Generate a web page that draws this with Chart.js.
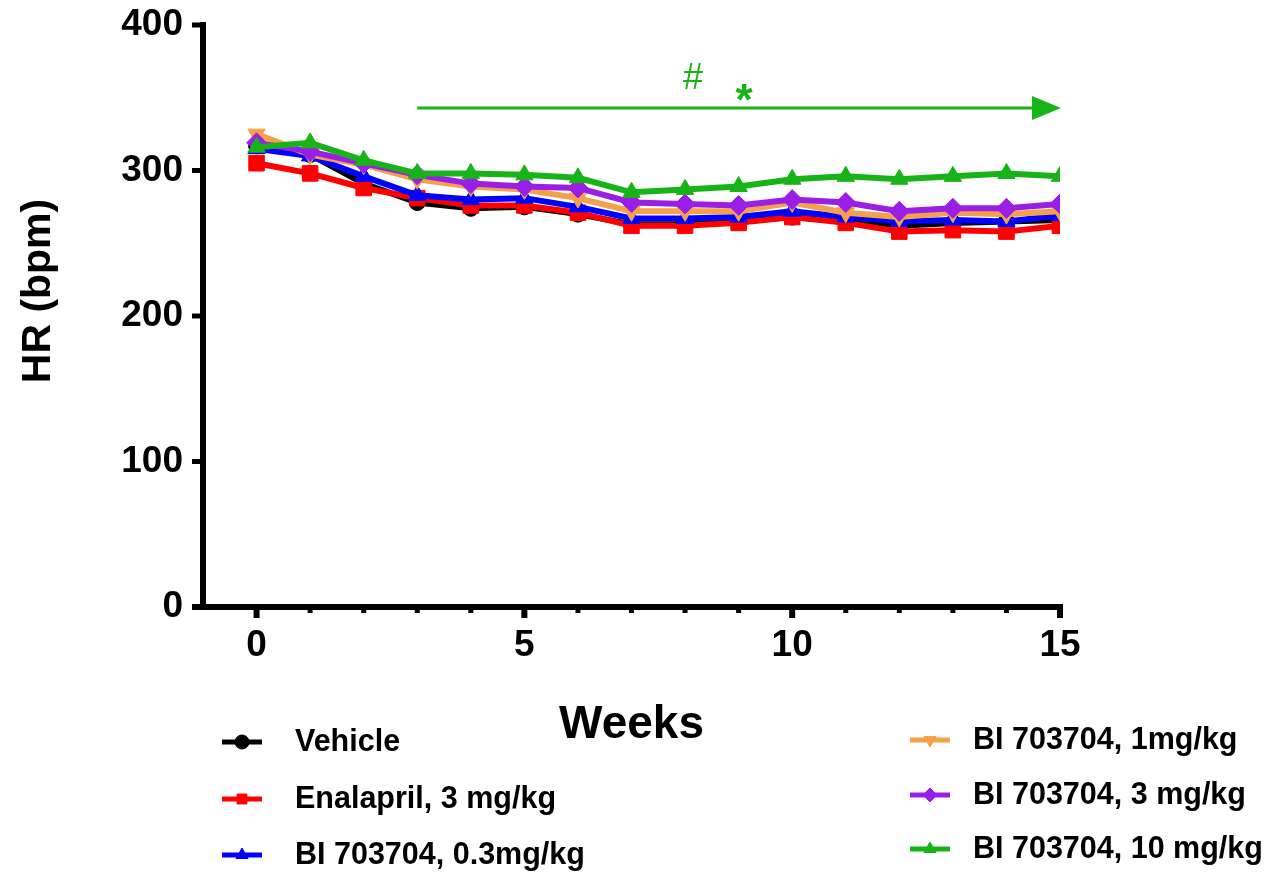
<!DOCTYPE html>
<html><head><meta charset="utf-8">
<script src="https://cdn.jsdelivr.net/npm/chart.js@4.4.1/dist/chart.umd.min.js"></script>
<style>html,body{margin:0;padding:0;background:#fff}canvas{display:block}</style>
</head><body>
<canvas id="c" width="1279" height="878"></canvas>
<script>
// ---- data ----
const weeks = [0,1,2,3,4,5,6,7,8,9,10,11,12,13,14,15];
const seriesNames = ['Vehicle','Enalapril, 3 mg/kg','BI 703704, 0.3mg/kg','BI 703704, 1mg/kg','BI 703704, 3 mg/kg','BI 703704, 10 mg/kg'];
const vehicle   = [317,311,291,278,274,275,270,263,263,265,268,265,262,264,265,266];
const enalapril = [305,298,288,281,276,276,271,262,262,264,268,264,258,259,258,262];
const bi03      = [315,310,296,283,280,281,275,267,267,268,272,268,265,266,265,269];
const bi1       = [325,311,304,294,289,287,281,272,272,272,278,271,268,271,270,272];
const bi3       = [319,313,305,297,291,289,288,278,277,276,280,278,272,274,274,277];
const bi10      = [316,319,307,298,298,297,295,285,287,289,294,296,294,296,298,296];
const yTickValues = [0,100,200,300,400];
const xMajorTicks = [0,5,10,15];
const xMinorTicks = [1,2,3,4,6,7,8,9,11,12,13,14];
const xTitle = 'Weeks';
const yTitle = 'HR (bpm)';
const arrowFrom = 3, arrowTo = 15, arrowLevel = 343;
const hashLabel = '#', hashWeek = 8.15, hashLevel = 363;
const starLabel = '*', starWeek = 9.1, starLevel = 352;

// ---- styles ----
const colors = ['#000000','#ff0000','#0000ff','#f5a04a','#9b1ee6','#17b417'];
const pointStyles = ['circle','rect','triangle','triangle','rectRot','triangle'];
const pointRotations = [0,0,0,180,0,0];
const pointRadii = [8,11,10,10,10,10];
const allSeries = [vehicle, enalapril, bi03, bi1, bi3, bi10];
const FONT = '"Liberation Sans", Arial, Helvetica, sans-serif';

const datasets = allSeries.map((vals, i) => ({
  label: seriesNames[i],
  data: weeks.map((w, j) => ({x: w, y: vals[j]})),
  borderColor: colors[i],
  backgroundColor: colors[i],
  pointBackgroundColor: colors[i],
  pointBorderColor: colors[i],
  pointStyle: pointStyles[i],
  pointRotation: pointRotations[i],
  pointRadius: pointRadii[i],
  pointBorderWidth: 1,
  borderWidth: 6,
  tension: 0,
  order: 6 - i
}));

const decor = {
  id: 'decor',
  afterDraw(chart) {
    const {ctx, scales: {x, y}} = chart;
    ctx.save();
    const ax = x.getPixelForValue(x.min);
    const ay = y.getPixelForValue(0);
    const yTop = y.getPixelForValue(400);
    const xEnd = x.getPixelForValue(15);
    ctx.strokeStyle = '#000';
    ctx.lineCap = 'butt';
    ctx.lineWidth = 6;
    ctx.beginPath(); ctx.moveTo(ax, yTop - 3); ctx.lineTo(ax, ay + 3); ctx.stroke();
    ctx.beginPath(); ctx.moveTo(ax - 11, ay); ctx.lineTo(xEnd + 3, ay); ctx.stroke();
    ctx.lineWidth = 5;
    yTickValues.forEach(v => {
      const py = y.getPixelForValue(v);
      ctx.beginPath(); ctx.moveTo(ax - 11, py); ctx.lineTo(ax, py); ctx.stroke();
    });
    ctx.lineWidth = 6;
    xMajorTicks.forEach(v => {
      const px = x.getPixelForValue(v);
      ctx.beginPath(); ctx.moveTo(px, ay); ctx.lineTo(px, ay + 11); ctx.stroke();
    });
    ctx.lineWidth = 5;
    xMinorTicks.forEach(v => {
      const px = x.getPixelForValue(v);
      ctx.beginPath(); ctx.moveTo(px, ay); ctx.lineTo(px, ay + 6); ctx.stroke();
    });
    ctx.fillStyle = '#000';
    ctx.font = 'bold 46px ' + FONT;
    ctx.textAlign = 'center';
    ctx.textBaseline = 'alphabetic';
    ctx.fillText(xTitle, (x.left + x.right) / 2, 738);
    ctx.save();
    ctx.translate(50, 291);
    ctx.rotate(-Math.PI / 2);
    ctx.font = 'bold 41px ' + FONT;
    ctx.fillText(yTitle, 0, 0);
    ctx.restore();
    const green = colors[5];
    ctx.strokeStyle = green; ctx.fillStyle = green;
    const ayA = y.getPixelForValue(arrowLevel);
    const x1 = x.getPixelForValue(arrowFrom), x2 = x.getPixelForValue(arrowTo);
    ctx.lineWidth = 3;
    ctx.beginPath(); ctx.moveTo(x1, ayA); ctx.lineTo(x2 - 26, ayA); ctx.stroke();
    ctx.beginPath(); ctx.moveTo(x2 + 1, ayA); ctx.lineTo(x2 - 28, ayA - 12); ctx.lineTo(x2 - 28, ayA + 12); ctx.closePath(); ctx.fill();
    ctx.textBaseline = 'middle';
    ctx.font = '36px ' + FONT;
    ctx.fillText(hashLabel, x.getPixelForValue(hashWeek), y.getPixelForValue(hashLevel));
    ctx.font = 'bold 44px ' + FONT;
    ctx.fillText(starLabel, x.getPixelForValue(starWeek), y.getPixelForValue(starLevel) + 8);
    const colX = [222, 910], textX = [295, 973];
    const rowY = [[742, 799, 855], [740, 795, 849]];
    ctx.textAlign = 'left';
    ctx.font = 'bold 30.5px ' + FONT;
    chart.data.datasets.forEach((ds, i) => {
      const c = i < 3 ? 0 : 1, r = i % 3;
      const ly = rowY[c][r];
      ctx.strokeStyle = colors[i]; ctx.fillStyle = colors[i];
      ctx.lineWidth = 5;
      ctx.beginPath(); ctx.moveTo(colX[c], ly); ctx.lineTo(colX[c] + 40, ly); ctx.stroke();
      ctx.lineWidth = 1;
      Chart.helpers.drawPoint(ctx, {pointStyle: pointStyles[i], radius: 7, rotation: pointRotations[i], borderWidth: 1}, colX[c] + 20, ly);
      ctx.fillStyle = '#000';
      ctx.textBaseline = 'middle';
      ctx.fillText(ds.label, textX[c], ly + 1);
    });
    ctx.restore();
  }
};

new Chart(document.getElementById('c'), {
  type: 'line',
  data: {datasets},
  options: {
    responsive: false,
    animation: false,
    layout: {padding: {top: 25, right: 219, bottom: 0, left: 0}},
    plugins: {legend: {display: false}, tooltip: {enabled: false}},
    scales: {
      x: {
        type: 'linear', min: -1, max: 15,
        afterFit(s) { s.height = 271; s.paddingLeft = 0; s.paddingRight = 0; s.paddingTop = 0; s.paddingBottom = 0; },
        grid: {display: false, drawTicks: false},
        border: {display: false},
        ticks: {stepSize: 5, includeBounds: false, padding: 17, color: '#000', font: {family: FONT, size: 37, weight: 'bold'}, maxRotation: 0}
      },
      y: {
        min: 0, max: 400,
        afterFit(s) { s.width = 203; s.paddingTop = 0; s.paddingBottom = 0; s.paddingLeft = 0; s.paddingRight = 0; },
        grid: {display: false, drawTicks: false},
        border: {display: false},
        ticks: {stepSize: 100, padding: 20, color: '#000', font: {family: FONT, size: 37, weight: 'bold'}}
      }
    }
  },
  plugins: [decor]
});
</script>
</body></html>
